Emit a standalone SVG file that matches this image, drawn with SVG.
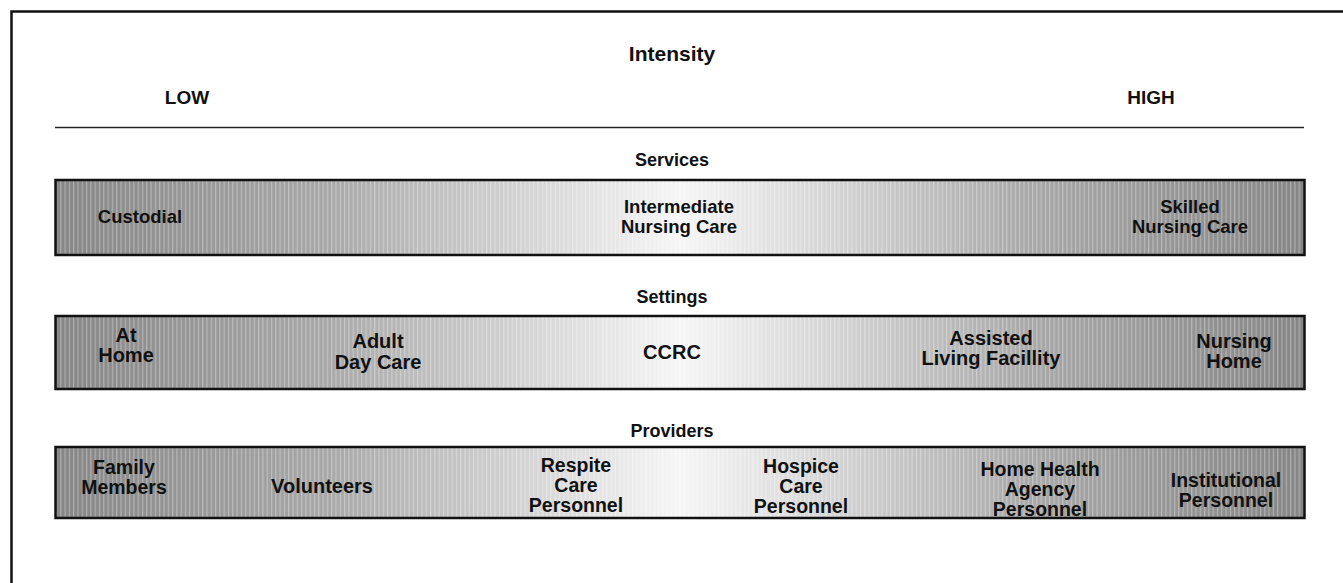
<svg xmlns="http://www.w3.org/2000/svg" width="1343" height="583" viewBox="0 0 1343 583">
  <defs>
    <linearGradient id="bandFill" x1="0" y1="0" x2="1" y2="0">
      <stop offset="0" stop-color="#858585"/>
      <stop offset="0.22" stop-color="#a8a8a8"/>
      <stop offset="0.5" stop-color="#f6f6f6"/>
      <stop offset="0.78" stop-color="#a8a8a8"/>
      <stop offset="1" stop-color="#858585"/>
    </linearGradient>
    <pattern id="stripes" x="0" y="0" width="4.3" height="10" patternUnits="userSpaceOnUse">
      <rect x="0" y="0" width="1.2" height="10" fill="#ffffff" fill-opacity="0.32"/>
    </pattern>
  </defs>
  <style>
    text { font-family: "Liberation Sans", Arial, sans-serif; font-weight: bold; fill: #111; text-anchor: middle; }
    .title { font-size: 21px; }
    .scale { font-size: 19px; }
    .head { font-size: 18px; }
    .lbl { font-size: 18.5px; }
    .lbl2 { font-size: 20px; }
    .lbl3 { font-size: 19.5px; }
    .band { fill: url(#bandFill); stroke: #111; stroke-width: 2.5; }
    .tex { fill: url(#stripes); }
    .frame { fill: none; stroke: #111; stroke-width: 2.5; }
    .rule { stroke: #222; stroke-width: 1.5; }
  </style>

  <!-- outer frame (left and top edges) -->
  <path class="frame" d="M11.5,583 V11.5 H1343"/>

  <!-- intensity scale header -->
  <g id="header">
    <text class="title" x="672" y="61">Intensity</text>
    <text class="scale" x="187" y="104">LOW</text>
    <text class="scale" x="1151" y="104">HIGH</text>
    <line class="rule" x1="55" y1="127.5" x2="1304" y2="127.5"/>
  </g>

  <g id="connectors"></g>

  <!-- Services band -->
  <g id="services">
    <text class="head" x="672" y="166">Services</text>
    <rect class="band" x="55.5" y="180" width="1249" height="75"/>
    <rect class="tex" x="57" y="181.5" width="1246" height="72"/>
    <text class="lbl" x="140" y="223">Custodial</text>
    <text class="lbl" x="679" y="213">Intermediate</text>
    <text class="lbl" x="679" y="233">Nursing Care</text>
    <text class="lbl" x="1190" y="213">Skilled</text>
    <text class="lbl" x="1190" y="233">Nursing Care</text>
  </g>

  <!-- Settings band -->
  <g id="settings">
    <text class="head" x="672" y="303">Settings</text>
    <rect class="band" x="55.5" y="316" width="1249" height="73"/>
    <rect class="tex" x="57" y="317.5" width="1246" height="70"/>
    <text class="lbl2" x="126" y="342">At</text>
    <text class="lbl2" x="126" y="362">Home</text>
    <text class="lbl2" x="378" y="348">Adult</text>
    <text class="lbl2" x="378" y="369">Day Care</text>
    <text class="lbl2" x="672" y="359">CCRC</text>
    <text class="lbl2" x="991" y="345">Assisted</text>
    <text class="lbl2" x="991" y="365">Living Facillity</text>
    <text class="lbl2" x="1234" y="348">Nursing</text>
    <text class="lbl2" x="1234" y="368">Home</text>
  </g>

  <!-- Providers band -->
  <g id="providers">
    <text class="head" x="672" y="437">Providers</text>
    <rect class="band" x="55.5" y="447" width="1249" height="71"/>
    <rect class="tex" x="57" y="448.5" width="1246" height="68"/>
    <text class="lbl3" x="124" y="474">Family</text>
    <text class="lbl3" x="124" y="494">Members</text>
    <text class="lbl2" x="322" y="493">Volunteers</text>
    <text class="lbl3" x="576" y="472">Respite</text>
    <text class="lbl3" x="576" y="492">Care</text>
    <text class="lbl3" x="576" y="512">Personnel</text>
    <text class="lbl3" x="801" y="473">Hospice</text>
    <text class="lbl3" x="801" y="493">Care</text>
    <text class="lbl3" x="801" y="513">Personnel</text>
    <text class="lbl3" x="1040" y="476">Home Health</text>
    <text class="lbl3" x="1040" y="496">Agency</text>
    <text class="lbl3" x="1040" y="516">Personnel</text>
    <text class="lbl3" x="1226" y="487">Institutional</text>
    <text class="lbl3" x="1226" y="507">Personnel</text>
  </g>
</svg>
